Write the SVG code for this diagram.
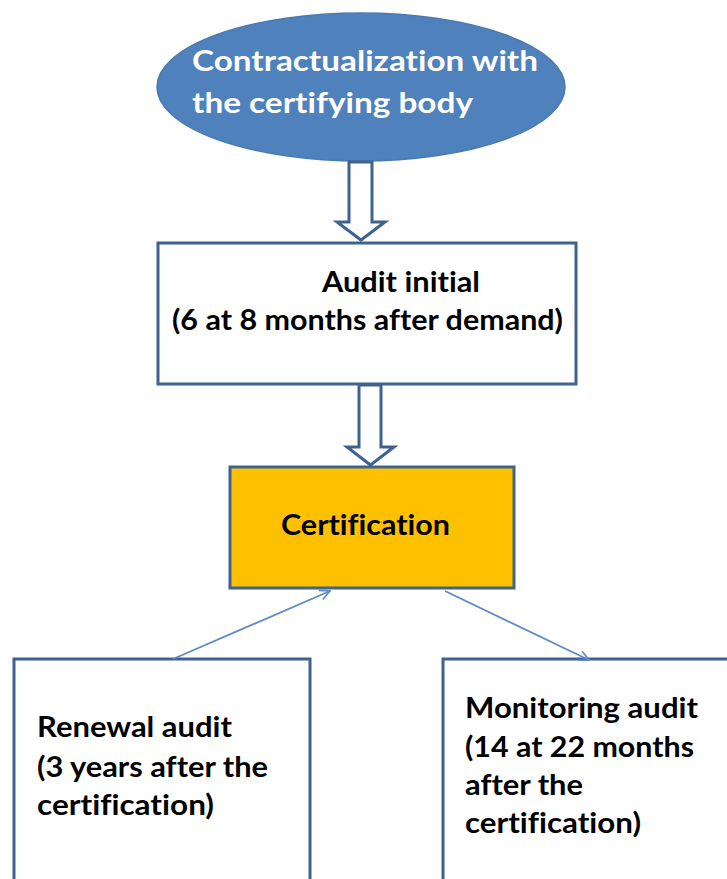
<svg xmlns="http://www.w3.org/2000/svg" width="727" height="879" viewBox="0 0 727 879">
  <style>
    .box { fill: #ffffff; stroke: #3E6391; stroke-width: 3; }
    .cert { fill: #FFC000; stroke: #3E6391; stroke-width: 3; }
    .oval { fill: #4F81BD; stroke: #4A7AB3; stroke-width: 1.5; }
    .block { fill: #ffffff; stroke: #3E6391; stroke-width: 3; stroke-linejoin: miter; }
    .link { fill: none; stroke: #5B8BC6; stroke-width: 1.8; }
    .t { font-family: Lato, "Open Sans", "Liberation Sans", sans-serif; font-weight: 700; font-size: 28px; fill: #000000; font-variant-ligatures: none; font-feature-settings: "liga" 0; }
    .w { fill: #ffffff; }
  </style>
  <defs>
    <marker id="open" viewBox="0 0 12 12" refX="11" refY="6" markerWidth="12" markerHeight="12" markerUnits="userSpaceOnUse" orient="auto">
      <path d="M1,1 L11,6 L1,11" fill="none" stroke="#5B8BC6" stroke-width="1.6"/>
    </marker>
  </defs>

  <rect width="727" height="879" fill="#ffffff"/>

  <g id="contract">
    <ellipse class="oval" cx="361" cy="87" rx="204" ry="74"/>
    <text class="t w" x="192" y="71" textLength="346" lengthAdjust="spacingAndGlyphs">Contractualization with</text>
    <text class="t w" x="192" y="113" textLength="281" lengthAdjust="spacingAndGlyphs">the certifying body</text>
  </g>

  <g id="audit-initial">
    <rect class="box" x="158" y="243" width="418" height="141"/>
    <text class="t" x="322" y="292" textLength="158" lengthAdjust="spacingAndGlyphs">Audit initial</text>
    <text class="t" x="172" y="330" textLength="391" lengthAdjust="spacingAndGlyphs">(6 at 8 months after demand)</text>
  </g>

  <g id="certification">
    <rect class="cert" x="230" y="467" width="284" height="121"/>
    <text class="t" x="281" y="535" textLength="169" lengthAdjust="spacingAndGlyphs">Certification</text>
  </g>

  <g id="renewal">
    <rect class="box" x="14" y="659" width="296" height="260"/>
    <text class="t" x="37" y="737" textLength="195" lengthAdjust="spacingAndGlyphs">Renewal audit</text>
    <text class="t" x="37" y="777" textLength="231" lengthAdjust="spacingAndGlyphs">(3 years after the</text>
    <text class="t" x="37" y="815" textLength="177" lengthAdjust="spacingAndGlyphs">certification)</text>
  </g>

  <g id="monitoring">
    <rect class="box" x="443" y="659" width="300" height="260"/>
    <text class="t" x="465" y="718" textLength="233" lengthAdjust="spacingAndGlyphs">Monitoring audit</text>
    <text class="t" x="465" y="757" textLength="229" lengthAdjust="spacingAndGlyphs">(14 at 22 months</text>
    <text class="t" x="465" y="795" textLength="118" lengthAdjust="spacingAndGlyphs">after the</text>
    <text class="t" x="465" y="833" textLength="176" lengthAdjust="spacingAndGlyphs">certification)</text>
  </g>

  <g id="connectors">
    <polygon class="block" points="349,162 372,162 372,222 385,222 361,240 337,222 349,222"/>
    <polygon class="block" points="359,385 381,385 381,447 394,447 370.5,465 347,447 359,447"/>
    <line class="link" x1="173" y1="659" x2="330" y2="591" marker-end="url(#open)"/>
    <line class="link" x1="445" y1="591" x2="589" y2="660" marker-end="url(#open)"/>
  </g>
</svg>
